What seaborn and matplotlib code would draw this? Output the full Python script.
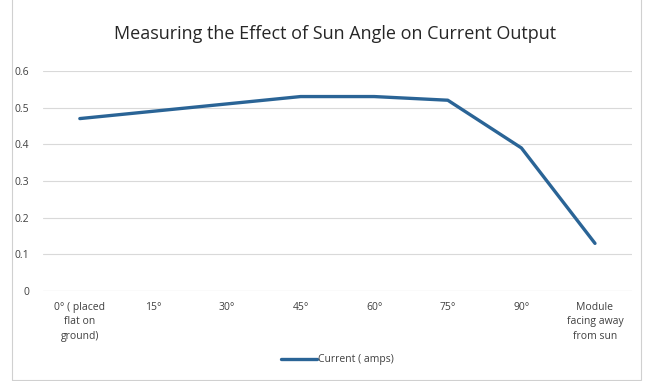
import pandas as pd
import matplotlib.pyplot as plt
import seaborn as sns
from matplotlib.patches import Rectangle

categories = ["0° ( placed\nflat on\nground)", "15°", "30°", "45°", "60°", "75°", "90°",
              "Module\nfacing away\nfrom sun"]
current = [0.47, 0.49, 0.51, 0.53, 0.53, 0.52, 0.39, 0.13]
y_ticks = [0, 0.1, 0.2, 0.3, 0.4, 0.5, 0.6]

df = pd.DataFrame({"angle": range(len(categories)), "current": current})

sns.set_style("white")
plt.rcParams['font.family'] = ['Open Sans', 'DejaVu Sans']

fig = plt.figure(figsize=(6.52, 3.81), dpi=100)
ax = fig.add_axes([0.066, 0.236, 0.903, 0.578])

sns.lineplot(data=df, x="angle", y="current", ax=ax, color="#2a6496", linewidth=2.4,
             sort=False, label="Current ( amps)")

ax.set_xlim(-0.5, len(categories) - 0.5)
ax.set_ylim(0, 0.6)
ax.set_yticks(y_ticks)
ax.set_yticklabels([f"{t:g}" for t in y_ticks], fontsize=7.5, color="#404040")
ax.set_xticks(range(len(categories)))
ax.set_xticklabels(categories, fontsize=7.5, color="#404040", va="top", linespacing=1.4)
ax.tick_params(axis="y", length=0, pad=10)
ax.tick_params(axis="x", length=0, pad=8)
ax.grid(axis="y", color="#d9d9d9", linewidth=0.8)
for s in ax.spines.values():
    s.set_visible(False)
ax.axhline(0, color="#d9d9d9", linewidth=0.8)
ax.set_xlabel("")
ax.set_ylabel("")

fig.suptitle("Measuring the Effect of Sun Angle on Current Output", x=0.514, y=0.935,
             fontsize=13, color="#262626")

ax.legend(loc="upper center", bbox_to_anchor=(0.5, -0.245), frameon=False, fontsize=7.5,
          handlelength=3.5, handletextpad=0.1, labelcolor="#404040")

fig.patches.append(Rectangle((0.018, 0.003), 0.965, 1.1, transform=fig.transFigure,
                             fill=False, edgecolor="#d0d0d0", linewidth=0.8))

fig.savefig("out.png", dpi=100)
